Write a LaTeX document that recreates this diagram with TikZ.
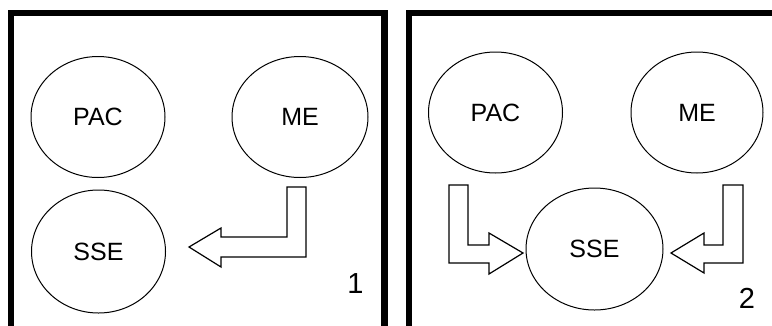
\documentclass[tikz,border=0pt]{standalone}
\usepackage{fontspec}
\setmainfont{Liberation Sans}
\usepackage{tikz}
\usetikzlibrary{positioning, shapes.geometric}
\tikzstyle{unit} = [ellipse, draw=black, line width=1pt, minimum width=134pt, minimum height=121pt, inner sep=0pt, font=\fontsize{25}{29}\selectfont]
\tikzstyle{blockarrow} = [draw=black, line width=1.2pt, fill=white, line join=miter]
\tikzstyle{frame} = [draw=black, line width=6.5pt]
\tikzstyle{panelno} = [font=\fontsize{29}{33}\selectfont]

\begin{document}
\begin{tikzpicture}[x=1pt, y=-1pt]

    \useasboundingbox (0,0) rectangle (772,325);

    % Frames
    \draw [frame] (11,330) -- (11,13) -- (384.5,13) -- (384.5,330);
    \draw [frame] (409,330) -- (409,13) -- (780,13);

    % Nodes (panel 1)
    \node (pac1) [unit] at (98,117) {PAC};
    \node (me1) [unit, minimum width=136pt] at (300,117) {ME};
    \node (sse1) [unit, minimum height=123pt] at (98.5,251.5) {SSE};
    \node (no1) [panelno] at (355.5,284) {1};

    % Nodes (panel 2)
    \node (pac2) [unit] at (495.5,112.5) {PAC};
    \node (me2) [unit, minimum width=132pt] at (697,112.5) {ME};
    \node (sse2) [unit, minimum width=137pt, minimum height=122pt] at (594.5,249) {SSE};
    \node (no2) [panelno] at (747,298) {2};

    % Arrows
    \draw [blockarrow] (287,187) -- (306,187) -- (306,257) -- (221,257) -- (221,267)
        -- (189,247) -- (221,228) -- (221,237) -- (287,237) -- cycle;
    \draw [blockarrow] (449,185) -- (468,185) -- (468,245) -- (489,245) -- (489,233)
        -- (523,253) -- (489,274) -- (489,263) -- (449,263) -- cycle;
    \draw [blockarrow] (723,185) -- (743,185) -- (743,263) -- (704,263) -- (704,273)
        -- (671,253) -- (704,233) -- (704,245) -- (723,245) -- cycle;

\end{tikzpicture}
\end{document}
